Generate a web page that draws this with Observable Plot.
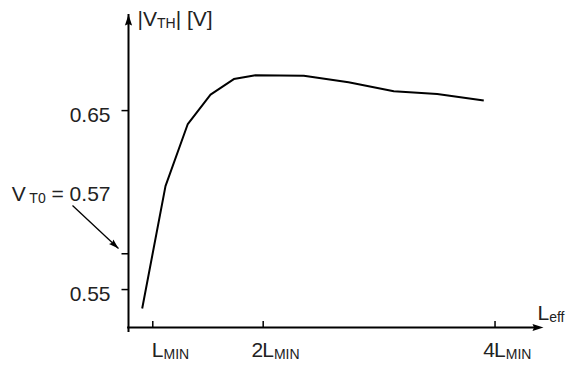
<!DOCTYPE html>
<html><head><meta charset="utf-8">
<script src="https://cdn.jsdelivr.net/npm/d3@7"></script>
<script src="https://cdn.jsdelivr.net/npm/@observablehq/plot@0.6"></script>
<style>
body{margin:0;background:#fff}
svg{display:block}
text{white-space:pre}
</style>
</head><body><div id="chart"></div>
<script>
// ---- data ----
const lengthLmin = [0.904, 1.115, 1.317, 1.523, 1.734, 1.930, 2.368, 2.773, 3.183, 3.576, 3.998];
const vthValues  = [0.5394, 0.6078, 0.6425, 0.6589, 0.6676, 0.6697, 0.6695, 0.6658, 0.6608, 0.6593, 0.6557];
const xTickValues = [1, 2, 4.1];
const xTickPrefixes = ["", "2", "4"];
const xTickMains = ["L_{MIN}", "L_{MIN}", "L_{MIN}"];
const yTickValues = [0.55, 0.57, 0.65];
const yTickLabels = ["0.55", "", "0.65"];
const vt0Value = 0.57;
const vt0Label = "V_{ T0} = 0.57";
const xTitle = "L_{eff}";
const yTitle = "|V_{TH}| [V]";
const xDomain = [0.78, 4.539];
const yDomain = [0.5288, 0.7037];
const vt0ArrowFrom = [0.2726, 0.5970];
const vt0ArrowTo = [0.6893, 0.5729];

// ---- layout / style ----
const FONT = "Liberation Sans, Arial, Helvetica, sans-serif";
const MAIN = 21, SUB = 14, SUBSHIFT = 2.5;

const points = lengthLmin.map((x, i) => ({x, y: vthValues[i]}));

const arrowHead = {draw(ctx) { ctx.moveTo(0, 0); ctx.lineTo(3.6, 11); ctx.lineTo(0, 9.5); ctx.lineTo(-3.6, 11); ctx.closePath(); }};
const smallHead = {draw(ctx) { ctx.moveTo(0, 0); ctx.lineTo(3.2, 10); ctx.lineTo(0, 8.5); ctx.lineTo(-3.2, 10); ctx.closePath(); }};
const tickLeft = {draw(ctx) { ctx.moveTo(0, 0); ctx.lineTo(-7, 0); }};
const tickUp = {draw(ctx) { ctx.moveTo(0, 0); ctx.lineTo(0, -6.5); }};

const plot = Plot.plot({
  width: 569,
  height: 366,
  marginLeft: 128,
  marginRight: 26,
  marginTop: 14,
  marginBottom: 39,
  x: {domain: xDomain, axis: null},
  y: {domain: yDomain, axis: null},
  style: {fontFamily: FONT, fontSize: MAIN + "px", color: "#000", background: "#fff"},
  marks: [
    // axes lines
    Plot.ruleX([xDomain[0]], {x: d => d, y1: () => yDomain[0], y2: () => yDomain[1], stroke: "#000", strokeWidth: 2, insetTop: 5}),
    Plot.ruleY([yDomain[0]], {y: d => d, x1: () => xDomain[0] - 0.008, x2: () => xDomain[1], stroke: "#000", strokeWidth: 2, insetRight: 5}),
    Plot.dot([0], {x: () => xDomain[0], y: () => yDomain[1], symbol: arrowHead, fill: "#000", stroke: "none"}),
    Plot.dot([0], {x: () => xDomain[1], y: () => yDomain[0], symbol: arrowHead, rotate: 90, fill: "#000", stroke: "none"}),
    // ticks
    Plot.dot(yTickValues, {x: () => xDomain[0], y: d => d, symbol: tickLeft, fill: "none", stroke: "#000", strokeWidth: 1.5}),
    Plot.dot(xTickValues, {x: d => d, y: () => yDomain[0], symbol: tickUp, fill: "none", stroke: "#000", strokeWidth: 1.5}),
    // tick labels
    Plot.text(yTickValues, {x: () => xDomain[0], y: d => d, text: (d, i) => yTickLabels[i], textAnchor: "end", lineAnchor: "bottom", dx: -18, dy: 11, fontSize: MAIN, fill: "#222"}),
    Plot.text(xTickValues, {x: d => d, y: () => yDomain[0], text: (d, i) => xTickPrefixes[i], textAnchor: "end", lineAnchor: "bottom", dy: 29, fontSize: MAIN, fill: "#222"}),
    Plot.text(xTickValues, {x: d => d, y: () => yDomain[0], text: (d, i) => xTickMains[i], textAnchor: "start", lineAnchor: "bottom", dx: -1, dy: 29, fontSize: MAIN, fill: "#222"}),
    // axis titles
    Plot.text([yTitle], {x: () => xDomain[0], y: () => yDomain[1], text: d => d, textAnchor: "start", lineAnchor: "bottom", dx: 9, dy: 11, fontSize: MAIN, fill: "#222"}),
    Plot.text([xTitle], {x: () => xDomain[1], y: () => yDomain[0], text: d => d, textAnchor: "start", lineAnchor: "bottom", dx: -6, dy: -8, fontSize: MAIN, fill: "#222"}),
    // V_T0 annotation
    Plot.text([vt0Label], {x: () => xDomain[0], y: () => vt0Value, text: d => d, textAnchor: "end", lineAnchor: "bottom", dx: -18, dy: -53, fontSize: MAIN, fill: "#222"}),
    Plot.link([0], {x1: () => vt0ArrowFrom[0], y1: () => vt0ArrowFrom[1], x2: () => vt0ArrowTo[0], y2: () => vt0ArrowTo[1], stroke: "#000", strokeWidth: 1.3}),
    Plot.dot([0], {x: () => vt0ArrowTo[0], y: () => vt0ArrowTo[1], symbol: smallHead, rotate: 133, fill: "#000", stroke: "none"}),
    // data curve
    Plot.line(points, {x: "x", y: "y", stroke: "#000", strokeWidth: 2, strokeLinejoin: "miter", strokeLinecap: "butt"})
  ]
});

// subscripts: "_{...}" -> smaller, lowered tspan
d3.select(plot).selectAll("text").each(function() {
  const s = this.textContent;
  if (!s.includes("_{")) return;
  const parts = s.split(/(_\{[^}]*\})/).filter(p => p !== "");
  this.textContent = "";
  let shifted = false;
  for (const p of parts) {
    const ts = d3.select(this).append("tspan");
    if (p.startsWith("_{")) {
      ts.text(p.slice(2, -1)).attr("font-size", SUB).attr("dy", SUBSHIFT);
      shifted = true;
    } else {
      ts.text(p);
      if (shifted) { ts.attr("dy", -SUBSHIFT); shifted = false; }
    }
  }
});

document.getElementById("chart").appendChild(plot);
</script>
</body></html>
